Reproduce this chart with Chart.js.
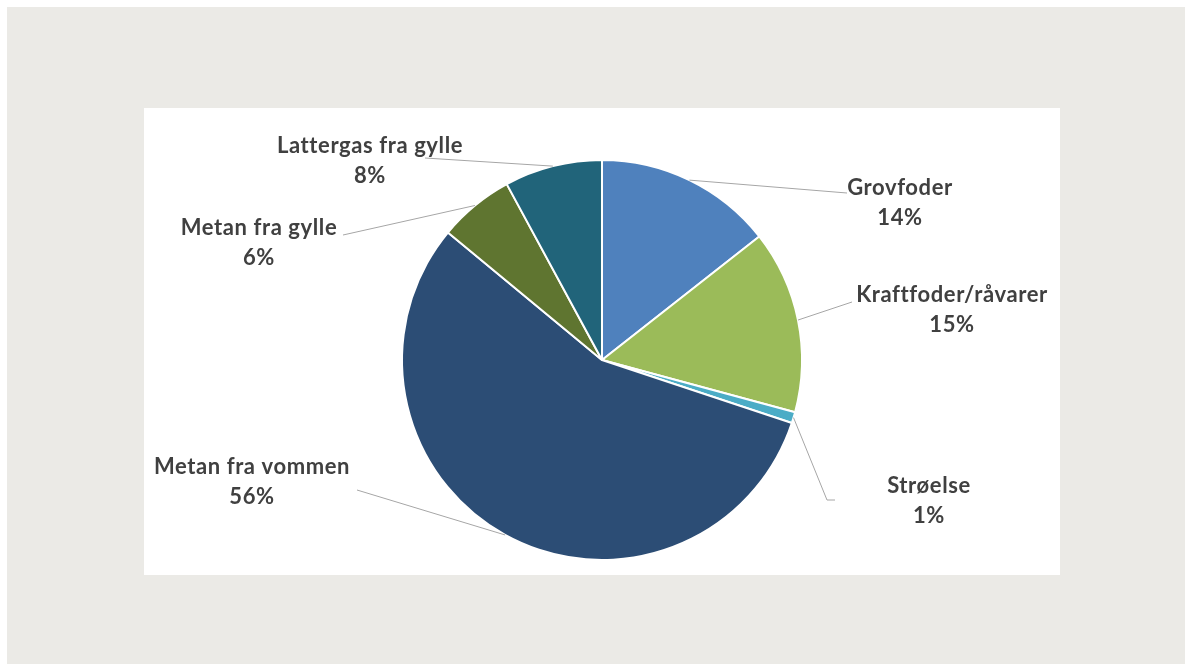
<!DOCTYPE html>
<html>
<head>
<meta charset="utf-8">
<script src="https://cdn.jsdelivr.net/npm/chart.js@4"></script>
<style>
  html, body { margin: 0; padding: 0; }
  body { width: 1192px; height: 670px; background: #ffffff; position: relative; overflow: hidden; }
  #outer { position: absolute; left: 7px; top: 7px; width: 1178px; height: 657px; background: #ebeae6; }
  #panel { position: absolute; left: 144px; top: 108px; width: 916px; height: 467px; background: #ffffff; }
  canvas { display: block; }
</style>
</head>
<body>
<div id="outer"></div>
<div id="panel"><canvas id="c" width="916" height="467"></canvas></div>
<script>
// ---- data ----
const categories = ['Grovfoder', 'Kraftfoder/råvarer', 'Strøelse', 'Metan fra vommen', 'Metan fra gylle', 'Lattergas fra gylle'];
const shares = [14.4, 14.8, 0.9, 55.9, 6.1, 7.9];
const sliceColors = ['#4f81bd', '#9bbb59', '#4bacc6', '#2c4d75', '#5f7530', '#21647a'];

// label placement (fractions of pie radius, relative to pie centre)
const labelAnchors = [[1.49, -0.86], [1.75, -0.325], [1.635, 0.63], [-1.75, 0.535], [-1.715, -0.66], [-1.16, -1.07]];
const leaderEnds = [[1.225, -0.835], [1.25, -0.29], [1.125, 0.70], [-1.225, 0.65], [-1.295, -0.625], [-0.885, -1.01]];
const leaderTails = [null, null, [1.165, 0.70], null, null, null];

const labelPlugin = {
  id: 'pieLabels',
  afterDatasetsDraw(chart) {
    const ctx = chart.ctx;
    const meta = chart.getDatasetMeta(0);
    const data = chart.data.datasets[0].data;
    const total = data.reduce((a, b) => a + b, 0);
    ctx.save();
    meta.data.forEach((arc, i) => {
      const p = arc.getProps(['x', 'y', 'startAngle', 'endAngle', 'outerRadius'], true);
      const r = p.outerRadius;
      const mid = (p.startAngle + p.endAngle) / 2;
      const sx = p.x + Math.cos(mid) * r;
      const sy = p.y + Math.sin(mid) * r;
      const e = leaderEnds[i];
      ctx.beginPath();
      ctx.strokeStyle = '#a6a6a6';
      ctx.lineWidth = 1;
      ctx.moveTo(sx, sy);
      ctx.lineTo(p.x + e[0] * r, p.y + e[1] * r);
      if (leaderTails[i]) {
        ctx.lineTo(p.x + leaderTails[i][0] * r, p.y + leaderTails[i][1] * r);
      }
      ctx.stroke();
      const a = labelAnchors[i];
      const lx = p.x + a[0] * r;
      const ly = p.y + a[1] * r;
      ctx.fillStyle = '#404040';
      ctx.font = 'bold 22px Lato, "Open Sans", sans-serif';
      ctx.letterSpacing = '0.6px';
      ctx.textAlign = 'center';
      ctx.textBaseline = 'middle';
      ctx.fillText(chart.data.labels[i], lx, ly);
      ctx.fillText(Math.round(data[i] / total * 100) + '%', lx, ly + 30);
    });
    ctx.restore();
  }
};

new Chart(document.getElementById('c'), {
  type: 'pie',
  data: {
    labels: categories,
    datasets: [{
      data: shares,
      backgroundColor: sliceColors,
      borderColor: '#ffffff',
      borderWidth: 2
    }]
  },
  options: {
    responsive: false,
    animation: false,
    layout: { padding: { top: 51, bottom: 14, left: 0, right: 0 } },
    plugins: {
      legend: { display: false },
      tooltip: { enabled: false }
    }
  },
  plugins: [labelPlugin]
});
</script>
</body>
</html>
